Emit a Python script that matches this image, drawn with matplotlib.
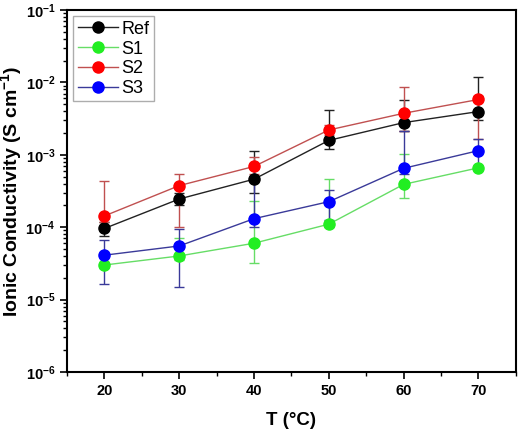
import numpy as np
import matplotlib
matplotlib.use('Agg')
import matplotlib.pyplot as plt
from matplotlib.ticker import LogLocator, NullFormatter, MultipleLocator

plt.rcParams['font.family'] = ['Liberation Sans', 'DejaVu Sans']
plt.rcParams['mathtext.fontset'] = 'custom'
plt.rcParams['mathtext.rm'] = 'Liberation Sans:bold'
plt.rcParams['mathtext.bf'] = 'Liberation Sans:bold'

# Temperatura (C)
T = [20, 30, 40, 50, 60, 70]
labels = ['Ref', 'S1', 'S2', 'S3']

# conductividad ionica (S/cm)
ref = [9.6e-5, 2.45e-4, 4.6e-4, 1.58e-3, 2.78e-3, 3.95e-3]
s1 = [3.0e-5, 4.0e-5, 6.0e-5, 1.1e-4, 3.9e-4, 6.6e-4]
s2 = [1.43e-4, 3.75e-4, 6.9e-4, 2.2e-3, 3.74e-3, 5.8e-3]
s3 = [4.1e-5, 5.5e-5, 1.31e-4, 2.25e-4, 6.5e-4, 1.14e-3]

# extremos inferior / superior de las barras de error
ref_lo = [7.6e-5, 2.0e-4, 3.0e-4, 1.2e-3, 2.16e-3, 3.0e-3]
ref_hi = [1.19e-4, 3.0e-4, 1.14e-3, 4.1e-3, 5.7e-3, 1.2e-2]
s1_lo = [2.7e-5, 3.5e-5, 3.2e-5, 1.0e-4, 2.56e-4, 6.2e-4]
s1_hi = [3.3e-5, 7.0e-5, 2.3e-4, 4.7e-4, 1.04e-3, 7.0e-4]
s2_lo = [1.19e-4, 1.0e-4, 5.5e-4, 1.9e-3, 2.16e-3, 1.64e-3]
s2_hi = [4.35e-4, 5.5e-4, 9.2e-4, 2.6e-3, 8.55e-3, 6.5e-3]
s3_lo = [1.64e-5, 1.5e-5, 1.0e-4, 1.27e-4, 5.5e-4, 6.6e-4]
s3_hi = [6.65e-5, 9.5e-5, 6.5e-4, 3.24e-4, 2.1e-3, 1.64e-3]

series = [ref, s1, s2, s3]
lows = [ref_lo, s1_lo, s2_lo, s3_lo]
highs = [ref_hi, s1_hi, s2_hi, s3_hi]
line_colors = ['#222222', '#66dd66', '#c05050', '#3a3a99']
marker_colors = ['#000000', '#22ee22', '#ff0000', '#0000ff']

fig = plt.figure(figsize=(5.2, 4.34), dpi=100)
ax = fig.add_axes([0.129, 0.143, 0.863, 0.834])

handles = []
for y, lo, hi, lab, lc, mc in zip(series, lows, highs, labels, line_colors, marker_colors):
    y = np.array(y)
    yerr = [y - np.array(lo), np.array(hi) - y]
    cont = ax.errorbar(T, y, yerr=yerr, color=lc, lw=1.0, elinewidth=1.0,
                       capsize=3.5, capthick=1.0, marker='o', markersize=8,
                       markerfacecolor=mc, markeredgecolor=mc, label=lab)
    handles.append(cont[0])

ax.set_yscale('log')
ax.set_ylim(1e-6, 1e-1)
ax.set_xlim(15, 75)
ax.xaxis.set_major_locator(MultipleLocator(10))
ax.xaxis.set_minor_locator(MultipleLocator(5))
ax.yaxis.set_major_locator(LogLocator(base=10, numticks=10))
ax.yaxis.set_minor_locator(LogLocator(base=10, subs=np.arange(2, 10), numticks=20))
ax.yaxis.set_minor_formatter(NullFormatter())

ax.tick_params(which='both', direction='out', top=False, right=False)
ax.tick_params(which='major', length=5, width=1.2, labelsize=10.5)
ax.tick_params(which='minor', length=3, width=1.0)
for lab in ax.get_xticklabels() + ax.get_yticklabels():
    lab.set_fontweight('bold')
for sp in ax.spines.values():
    sp.set_linewidth(1.5)

ax.set_xlabel('T (°C)', fontsize=13.5, fontweight='bold', labelpad=10)
ax.set_ylabel('Ionic Conductivity (S cm$^{-1}$)', fontsize=14, fontweight='bold')
ax.yaxis.set_label_coords(-0.093, 0.5)

leg = ax.legend(handles, labels, loc='upper left', fontsize=13, frameon=True, fancybox=False,
                handlelength=2.2, borderpad=0.25, labelspacing=0.15, handletextpad=0.2,
                borderaxespad=0.35)
leg.get_frame().set_edgecolor('#999999')
leg.get_frame().set_linewidth(1.0)

fig.savefig('out.png', dpi=100)
